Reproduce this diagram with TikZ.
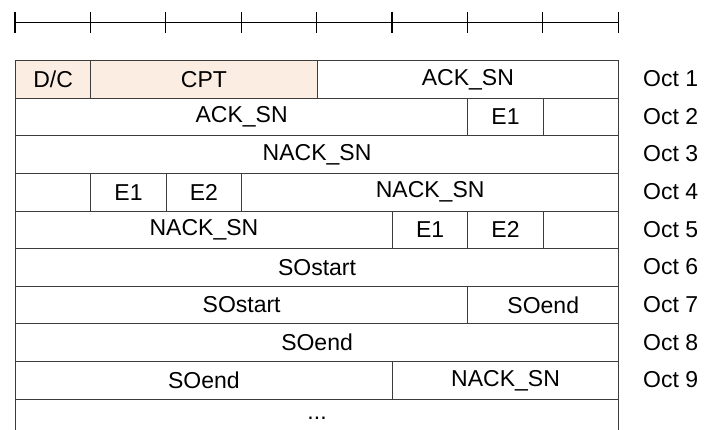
\documentclass[tikz,border=0pt]{standalone}
\usepackage{fontspec}
\setmainfont{Liberation Sans}
\definecolor{peach}{RGB}{252,237,226}
\definecolor{linegray}{RGB}{60,60,60}
\newcommand\fieldcell[6]{%
  \node[fieldbox,#6,minimum width=#4*75.4pt] (#1) at ({15+75.4*#3},{60+37.63*(#2-1)}) {#5};}
\begin{document}
\begin{tikzpicture}[x=1pt,y=-1pt,
  fieldbox/.style={draw=linegray,line width=0.9pt,rectangle,anchor=north west,
    inner sep=0pt,minimum height=37.63pt,font=\fontsize{23}{27}\selectfont},
  hdr/.style={fill=peach},
  octlabel/.style={anchor=west,inner sep=0pt,font=\fontsize{23}{27}\selectfont},
  ruler/.style={line width=1.1pt,black}]
\useasboundingbox (0,0) rectangle (707,430);
\clip (0,0) rectangle (707,430);
% ruler
\coordinate (r0) at (15,22.3);
\coordinate (r8) at (618.3,22.3);
\draw[ruler] (r0) -- (r8);
\foreach \k in {0,...,8}{
  \draw[ruler] ({15+75.4*\k},11.7) -- ({15+75.4*\k},32.9);
}
% row 1
\fieldcell{dc}{1}{0}{1}{D/C}{hdr}
\fieldcell{cpt}{1}{1}{3}{CPT}{hdr}
\fieldcell{acka}{1}{4}{4}{ACK\_SN}{}
% row 2
\fieldcell{ackb}{2}{0}{6}{ACK\_SN}{}
\fieldcell{eone}{2}{6}{1}{E1}{}
\fieldcell{blanka}{2}{7}{1}{}{}
% row 3
\fieldcell{nacka}{3}{0}{8}{NACK\_SN}{}
% row 4
\fieldcell{blankb}{4}{0}{1}{}{}
\fieldcell{eoneb}{4}{1}{1}{E1}{}
\fieldcell{etwob}{4}{2}{1}{E2}{}
\fieldcell{nackb}{4}{3}{5}{NACK\_SN}{}
% row 5
\fieldcell{nackc}{5}{0}{5}{NACK\_SN}{}
\fieldcell{eonec}{5}{5}{1}{E1}{}
\fieldcell{etwoc}{5}{6}{1}{E2}{}
\fieldcell{blankc}{5}{7}{1}{}{}
% row 6
\fieldcell{soa}{6}{0}{8}{SOstart}{}
% row 7
\fieldcell{sob}{7}{0}{6}{SOstart}{}
\fieldcell{soeb}{7}{6}{2}{SOend}{}
% row 8
\fieldcell{soec}{8}{0}{8}{SOend}{}
% row 9
\fieldcell{soed}{9}{0}{5}{SOend}{}
\fieldcell{nackd}{9}{5}{3}{NACK\_SN}{}
% row 10
\fieldcell{more}{10}{0}{8}{...}{}
% octet labels
\foreach \i in {1,...,9}{
  \node[octlabel] (oct\i) at (643,{60+37.63*(\i-0.5)}) {Oct \i};
}
\end{tikzpicture}
\end{document}
